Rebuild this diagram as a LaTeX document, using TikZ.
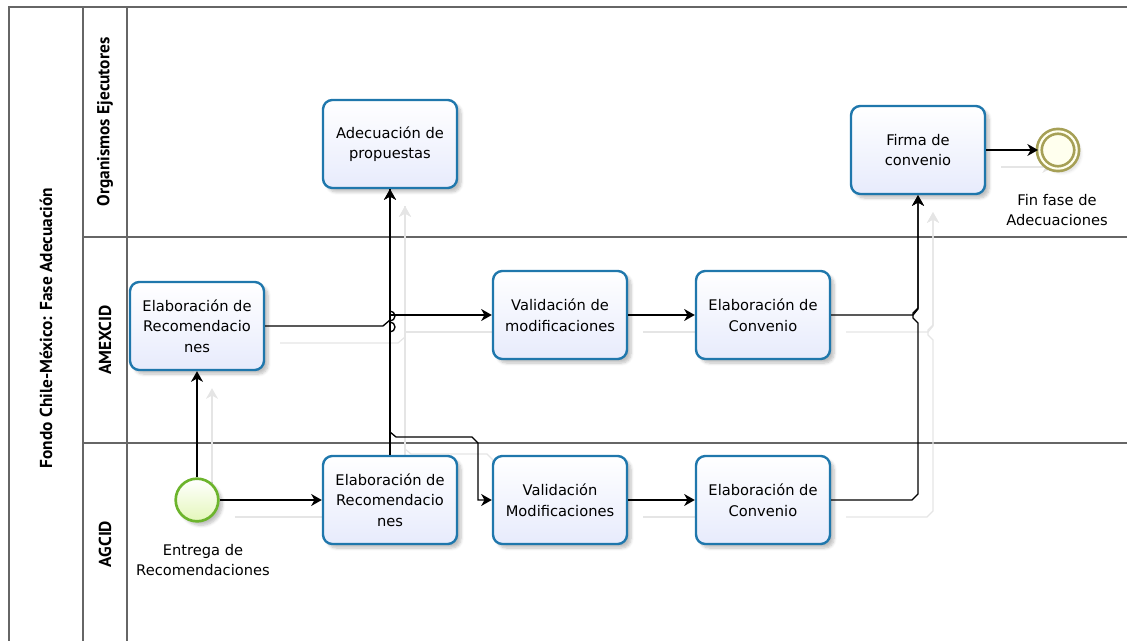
\documentclass[tikz,border=0pt]{standalone}
\usepackage{fontspec}
\setmainfont{DejaVu Sans}
\newfontfamily\lanefont{PT Sans}
\usetikzlibrary{arrows.meta,shadows.blur,backgrounds}

\definecolor{taskblue}{RGB}{31,119,172}
\definecolor{taskfill}{RGB}{231,235,252}
\definecolor{startgreen}{RGB}{108,180,44}
\definecolor{startfill}{RGB}{228,247,186}
\definecolor{endolive}{RGB}{166,160,86}
\definecolor{endfill}{RGB}{255,255,238}

\newcommand\flowlines{%
  \draw (start) -- (er1);
  \draw (start) -- (er2);
  \draw (er2) -- (ade);
  \draw (er1.east) -- (383,326) -- (390,320) -- (ade.south);
  \draw (ade.south) -- (ade.south |- val1.west) -- (val1.west);
  \draw (ade.south) -- (390,432) -- (396,437) -- (472,437) -- (478,443) -- (478,500) -- (val2.west);
  \draw (val1) -- (ec1);
  \draw (val2) -- (ec2);
  \draw (ec1.east) -- (913,315) -- (918,309) -- (firma.south);
  \draw (ec2.east) -- (912,500) -- (918,494) -- (918,323) -- (913,318) -- (913,313) -- (918,308) -- (firma.south);
  \draw (firma) -- (fin);
}

\begin{document}
\begin{tikzpicture}[x=0.75pt,y=-0.75pt,
    task/.style={draw=taskblue, line width=1.8pt, rounded corners=7pt,
      top color=white, bottom color=taskfill, minimum width=100.5pt,
      minimum height=66pt, align=center, inner sep=2pt,
      font=\fontsize{11}{15.5}\selectfont,
      blur shadow={shadow xshift=3pt, shadow yshift=-3pt, shadow blur steps=6, shadow opacity=25}},
    startev/.style={circle, draw=startgreen, line width=2pt, top color=white,
      bottom color=startfill, minimum size=32pt, inner sep=0pt,
      blur shadow={shadow xshift=3pt, shadow yshift=-3pt, shadow blur steps=6, shadow opacity=25}},
    endev/.style={circle, draw=endolive, line width=2pt, double=endfill,
      double distance=1.6pt, fill=endfill, minimum size=28pt, inner sep=0pt,
      blur shadow={shadow xshift=3pt, shadow yshift=-3pt, shadow blur steps=6, shadow opacity=15}},
    lbl/.style={align=center, font=\fontsize{11}{15.5}\selectfont},
    lane/.style={rotate=90, font=\lanefont\bfseries\fontsize{13}{15}\selectfont},
    poolline/.style={draw=black!60, line width=0.8pt},
    flowline/.style={black, line width=1pt, -{Stealth[length=8pt,width=9pt,inset=2.5pt]}},
    ghostline/.style={black!10, line width=0.9pt, -{Stealth[length=8pt,width=9pt,inset=2.5pt]}}]
  \useasboundingbox (0,0) rectangle (1127,641);

  \node[lane] (pool) at (46,328) {Fondo Chile-México: Fase Adecuación};
  \node[lane] (orgs) at (105,122) {Organismos Ejecutores};
  \node[lane] (amex) at (105,340) {AMEXCID};
  \node[lane] (agcid) at (105,544) {AGCID};

  \node[task] (ade) at (390,144) {Adecuación de\\propuestas};
  \node[task] (firma) at (918,150) {Firma de\\convenio};
  \node[endev] (fin) at (1058,150) {};
  \node[lbl] (finlbl) at (1057,210) {Fin fase de\\Adecuaciones};
  \node[task] (er1) at (197,326) {Elaboración de\\Recomendacio\\nes};
  \node[task] (val1) at (560,315) {Validación de\\modificaciones};
  \node[task] (ec1) at (763,315) {Elaboración de\\Convenio};
  \node[startev] (start) at (197,500) {};
  \node[lbl] (startlbl) at (203,560) {Entrega de\\Recomendaciones};
  \node[task] (er2) at (390,500) {Elaboración de\\Recomendacio\\nes};
  \node[task] (val2) at (560,500) {Validación\\Modificaciones};
  \node[task] (ec2) at (763,500) {Elaboración de\\Convenio};

  \begin{scope}[on background layer]
    \draw[poolline] (9,641) -- (9,7) -- (1127,7);
    \draw[poolline] (83,7) -- (83,641);
    \draw[poolline] (127,7) -- (127,641);
    \draw[poolline] (83,237) -- (1127,237);
    \draw[poolline] (83,443) -- (1127,443);
    \begin{scope}[ghostline, transform canvas={shift={(15,17)}}]
      \flowlines
    \end{scope}
  \end{scope}

  \begin{scope}[flowline]
    \flowlines
  \end{scope}
  \draw[line width=1pt] (390,311) arc[start angle=-90, end angle=90, radius=5];
  \draw[line width=1pt] (390,322) arc[start angle=-90, end angle=90, radius=5];
\end{tikzpicture}
\end{document}
